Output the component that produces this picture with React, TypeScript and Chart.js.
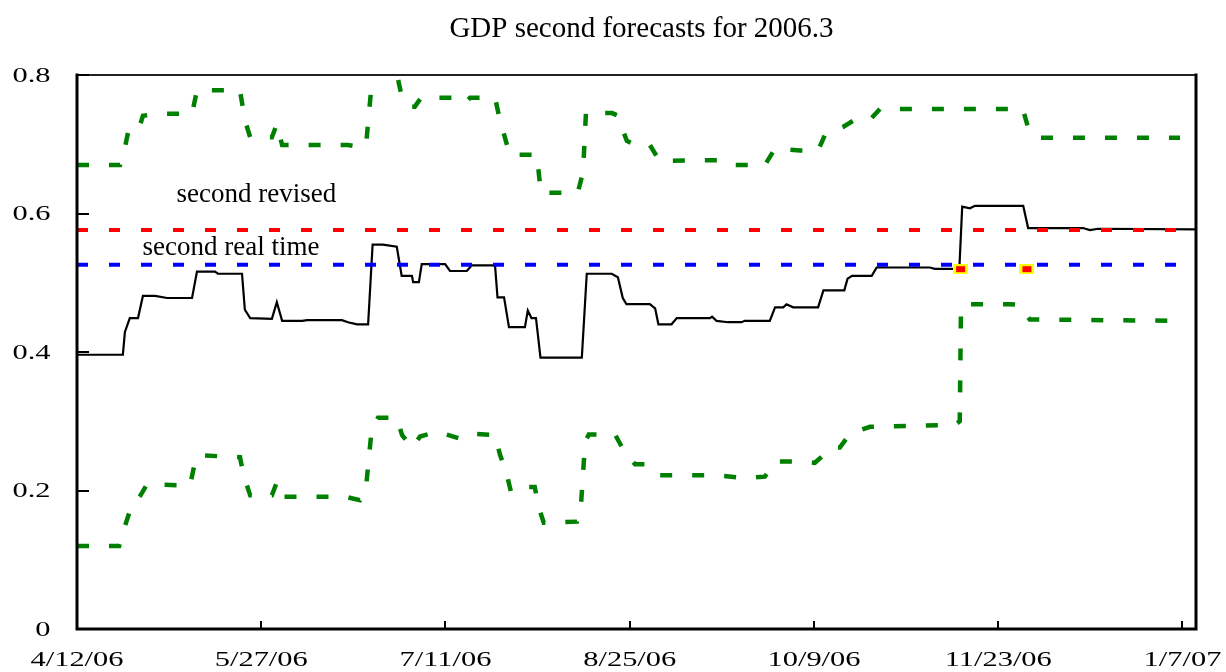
import React, { useEffect, useRef } from "react";
import { Chart, registerables } from "chart.js";

Chart.register(...registerables);

// ---------- data ----------
const TITLE = "GDP second forecasts for 2006.3";
// x values are days since 4/12/06
const xTickDays = [0, 45, 90, 135, 180, 225, 270];
const xTickLabels = ["4/12/06", "5/27/06", "7/11/06", "8/25/06", "10/9/06", "11/23/06", "1/7/07"];
const xMaxDay = 273.3;
const yTickValues = [0, 0.2, 0.4, 0.6, 0.8];
const yTickLabels = ["0", "0.2", "0.4", "0.6", "0.8"];

const forecastDays = [
  0, 11.2, 11.7, 12.9, 14.9, 16.1, 19.1, 22.0, 28.1, 29.3, 33.7, 34.4, 40.3, 41.0, 42.3,
  47.6, 48.8, 50.1, 55.0, 56.2, 64.7, 66.2, 68.4, 71.1, 72.2, 74.7, 78.1, 79.3, 81.8, 82.1,
  83.5, 84.2, 89.9, 91.1, 95.2, 96.4, 102.1, 102.7, 104.3, 105.5, 109.4, 110.1, 111.0,
  112.1, 113.2, 123.3, 124.5, 130.6, 132.1, 133.3, 134.2, 139.9, 141.2, 142.0, 145.2,
  146.5, 154.6, 155.1, 156.2, 159.0, 162.3, 163.1, 169.2, 170.5, 172.5, 173.3, 174.9,
  181.0, 182.3, 187.4, 188.2, 189.3, 194.1, 195.3, 208.3, 209.5, 215.5, 216.2, 218.1,
  219.3, 231.1, 232.3, 245.7, 247.4, 249.4, 273.3,
];
const forecastValues = [
  0.396, 0.396, 0.429, 0.449, 0.449, 0.481, 0.481, 0.478, 0.478, 0.516, 0.516, 0.513, 0.513, 0.461, 0.449,
  0.448, 0.472, 0.445, 0.445, 0.446, 0.446, 0.443, 0.44, 0.44, 0.555, 0.555, 0.552, 0.51, 0.51, 0.501,
  0.501, 0.527, 0.527, 0.517, 0.517, 0.525, 0.525, 0.479, 0.479, 0.436, 0.436, 0.46, 0.449,
  0.449, 0.392, 0.392, 0.513, 0.513, 0.508, 0.478, 0.469, 0.469, 0.463, 0.44, 0.44,
  0.449, 0.449, 0.451, 0.445, 0.443, 0.443, 0.445, 0.445, 0.4645, 0.4645, 0.469, 0.4645,
  0.4645, 0.489, 0.489, 0.506, 0.51, 0.51, 0.522, 0.522, 0.52, 0.52, 0.61, 0.6075,
  0.611, 0.611, 0.579, 0.579, 0.576, 0.578, 0.577,
];

const upperDays = [
  0, 10.5, 11.7, 12.5, 14.9, 16.1, 20.3, 28.1, 29.3, 39.8, 41.0, 42.3, 47.6, 48.8, 50.1,
  66.2, 68.1, 70.6, 72.2, 78.1, 79.1, 81.3, 82.5, 84.0, 93.5, 94.8, 96.0, 102.1, 103.3,
  105.7, 109.9, 112.3, 113.3, 122.3, 123.6, 124.3, 130.7, 131.9, 134.3, 136.3, 139.9,
  142.4, 145.3, 152.1, 157.0, 159.5, 168.0, 170.5, 176.6, 181.0, 182.7, 187.1, 190.7,
  194.1, 196.1, 231.0, 232.2, 234.2, 269.4,
];
const upperValues = [
  0.67, 0.67, 0.695, 0.718, 0.718, 0.741, 0.744, 0.744, 0.778, 0.778, 0.735, 0.71, 0.71, 0.729, 0.699,
  0.699, 0.697, 0.699, 0.802, 0.802, 0.775, 0.754, 0.754, 0.767, 0.767, 0.76, 0.767, 0.767, 0.735,
  0.685, 0.685, 0.685, 0.63, 0.63, 0.66, 0.745, 0.745, 0.742, 0.705, 0.699, 0.699,
  0.675, 0.676, 0.677, 0.677, 0.67, 0.67, 0.694, 0.691, 0.691, 0.714, 0.725, 0.738,
  0.738, 0.751, 0.751, 0.726, 0.7095, 0.7095,
];

const lowerDays = [
  0, 10.3, 11.5, 12.9, 15.4, 17.1, 27.6, 28.6, 29.6, 39.8, 40.8, 42.3, 47.6, 48.8, 50.1,
  65.5, 69.1, 70.6, 72.0, 73.5, 78.1, 79.4, 81.8, 83.8, 87.9, 93.5, 96.0, 102.1, 103.3,
  104.8, 106.0, 109.2, 111.8, 112.8, 114.0, 122.1, 123.1, 124.1, 125.0, 131.4, 133.8,
  136.3, 139.4, 142.4, 156.0, 163.1, 168.0, 170.5, 176.6, 180.2, 184.4, 186.3, 188.8,
  193.7, 214.4, 215.6, 215.9, 217.6, 227.8, 230.3, 232.7, 269.4,
];
const lowerValues = [
  0.12, 0.12, 0.145, 0.17, 0.192, 0.209, 0.207, 0.235, 0.251, 0.248, 0.22, 0.193, 0.193, 0.212, 0.191,
  0.191, 0.186, 0.205, 0.29, 0.305, 0.305, 0.28, 0.262, 0.278, 0.285, 0.275, 0.282, 0.28, 0.252,
  0.227, 0.198, 0.205, 0.205, 0.175, 0.1535, 0.155, 0.18, 0.27, 0.281, 0.281, 0.255,
  0.238, 0.238, 0.222, 0.222, 0.218, 0.22, 0.242, 0.242, 0.24, 0.262, 0.262, 0.282,
  0.292, 0.2946, 0.3, 0.465, 0.469, 0.469, 0.468, 0.447, 0.445,
];

const revisedValue = 0.576;
const realTimeValue = 0.526;
const referenceSpanDays = [0, 270];
const markerDays = [215.8, 232.0];
const markerValues = [0.5196, 0.5196];

const annotationTexts = ["second revised", "second real time"];
const annotationDays = [43.8, 37.6];
const annotationValues = [0.617, 0.54];

// ---------- helpers ----------
const SERIF = '"Liberation Serif", "Times New Roman", Times, serif';
const toPoints = (xs: number[], ys: number[]) => xs.map((x, i) => ({ x, y: ys[i] }));

const decorPlugin = {
  id: "decor",
  afterDraw(chart: any) {
    const { ctx, chartArea: a, scales } = chart;
    const xs = scales.x;
    const ys = scales.y;
    ctx.save();

    // frame
    ctx.lineCap = "square";
    ctx.strokeStyle = "#222";
    ctx.lineWidth = 2;
    ctx.beginPath();
    ctx.moveTo(a.left, a.top);
    ctx.lineTo(a.right, a.top);
    ctx.stroke();
    ctx.strokeStyle = "#000";
    ctx.lineWidth = 3;
    ctx.beginPath();
    ctx.moveTo(a.right, a.top);
    ctx.lineTo(a.right, a.bottom);
    ctx.moveTo(a.left, a.top);
    ctx.lineTo(a.left, a.bottom);
    ctx.lineTo(a.right, a.bottom);
    ctx.stroke();

    // tick marks (inward)
    ctx.lineCap = "butt";
    ctx.lineWidth = 2;
    ctx.beginPath();
    xTickDays.forEach((d) => {
      if (d === 0) return;
      const px = Math.round(xs.getPixelForValue(d));
      ctx.moveTo(px, a.bottom);
      ctx.lineTo(px, a.bottom - 8);
    });
    yTickValues.forEach((v) => {
      if (v === 0) return;
      const py = Math.round(ys.getPixelForValue(v));
      ctx.moveTo(a.left, py);
      ctx.lineTo(a.left + 12, py);
    });
    ctx.stroke();

    // tick labels (horizontally stretched serif)
    ctx.fillStyle = "#000";
    ctx.font = `21px ${SERIF}`;
    ctx.textBaseline = "alphabetic";
    xTickDays.forEach((d, i) => {
      const px = xs.getPixelForValue(d);
      ctx.save();
      ctx.translate(px, 666);
      ctx.scale(1.45, 1);
      ctx.textAlign = "center";
      ctx.fillText(xTickLabels[i], 0, 0);
      ctx.restore();
    });
    yTickValues.forEach((v, i) => {
      const py = ys.getPixelForValue(v);
      ctx.save();
      ctx.translate(a.left - 26.5, py + 6.5);
      ctx.scale(1.45, 1);
      ctx.textAlign = "right";
      ctx.fillText(yTickLabels[i], 0, 0);
      ctx.restore();
    });

    // title
    ctx.font = `29px ${SERIF}`;
    ctx.textAlign = "center";
    ctx.fillText(TITLE, (a.left + a.right) / 2 + 5, 37);

    // annotations
    ctx.font = `27px ${SERIF}`;
    annotationTexts.forEach((t, i) => {
      ctx.fillText(t, xs.getPixelForValue(annotationDays[i]), ys.getPixelForValue(annotationValues[i]));
    });

    ctx.restore();
  },
};

export default function App() {
  const canvasRef = useRef<HTMLCanvasElement | null>(null);

  useEffect(() => {
    const canvas = canvasRef.current;
    if (!canvas) return;

    const marker = document.createElement("canvas");
    marker.width = 15;
    marker.height = 10;
    const mc = marker.getContext("2d")!;
    mc.fillStyle = "#FFFF00";
    mc.fillRect(0, 0, 15, 10);
    mc.fillStyle = "#FF0000";
    mc.fillRect(3, 2, 9, 6);

    const refLine = (value: number) => referenceSpanDays.map((d) => ({ x: d, y: value }));

    const chart = new Chart(canvas, {
      type: "line",
      data: {
        datasets: [
          {
            label: "markers",
            data: toPoints(markerDays, markerValues),
            showLine: false,
            pointStyle: marker as any,
            pointRadius: 8,
            pointHoverRadius: 8,
          },
          {
            label: "second revised",
            data: refLine(revisedValue),
            borderColor: "#FF0000",
            borderWidth: 4,
            borderDash: [11, 21],
            pointRadius: 0,
          },
          {
            label: "second real time",
            data: refLine(realTimeValue),
            borderColor: "#0000FF",
            borderWidth: 4,
            borderDash: [11, 21],
            pointRadius: 0,
          },
          {
            label: "upper",
            data: toPoints(upperDays, upperValues),
            borderColor: "#008000",
            borderWidth: 4.5,
            borderDash: [12, 20],
            pointRadius: 0,
          },
          {
            label: "lower",
            data: toPoints(lowerDays, lowerValues),
            borderColor: "#008000",
            borderWidth: 4.5,
            borderDash: [12, 20],
            pointRadius: 0,
          },
          {
            label: "forecast",
            data: toPoints(forecastDays, forecastValues),
            borderColor: "#000000",
            borderWidth: 2.2,
            pointRadius: 0,
          },
        ],
      },
      options: {
        animation: false,
        responsive: false,
        events: [],
        layout: { padding: { top: 75, right: 30, bottom: 0, left: 0 } },
        elements: { line: { tension: 0 } },
        plugins: {
          legend: { display: false },
          tooltip: { enabled: false },
          title: { display: false },
        },
        scales: {
          x: {
            type: "linear",
            min: 0,
            max: xMaxDay,
            grid: { display: false, drawTicks: false },
            border: { display: false },
            ticks: { display: false },
            afterFit: (s: any) => {
              s.height = 43;
              s.paddingLeft = 0;
              s.paddingRight = 0;
            },
          },
          y: {
            type: "linear",
            min: 0,
            max: 0.8,
            grid: { display: false, drawTicks: false },
            border: { display: false },
            ticks: { display: false },
            afterFit: (s: any) => {
              s.width = 77;
              s.paddingTop = 0;
              s.paddingBottom = 0;
            },
          },
        },
      } as any,
      plugins: [decorPlugin],
    });

    return () => chart.destroy();
  }, []);

  return (
    <div style={{ position: "absolute", left: 0, top: 0, width: 1226, height: 672, background: "#fff" }}>
      <canvas ref={canvasRef} width={1226} height={672} style={{ display: "block" }} />
    </div>
  );
}
